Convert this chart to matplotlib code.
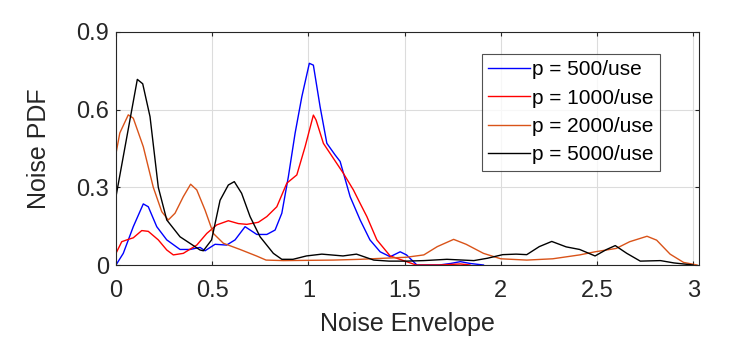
import matplotlib
matplotlib.use("Agg")
import matplotlib.pyplot as plt

plt.rcParams['font.family'] = ['Liberation Sans', 'DejaVu Sans']

# p = 500/use
x500 = [0.0, 0.038, 0.09, 0.142, 0.168, 0.212, 0.264, 0.333, 0.385, 0.437, 0.463, 0.515,
        0.575, 0.619, 0.671, 0.732, 0.784, 0.827, 0.862, 0.896, 0.931, 0.966, 1.005, 1.026,
        1.061, 1.096, 1.139, 1.165, 1.217, 1.269, 1.32, 1.373, 1.425, 1.477, 1.51, 1.564,
        1.68, 1.74, 1.79, 1.84, 1.91]
y500 = [0.0, 0.045, 0.148, 0.236, 0.225, 0.148, 0.097, 0.06, 0.06, 0.068, 0.055, 0.08,
        0.077, 0.097, 0.148, 0.118, 0.118, 0.135, 0.2, 0.341, 0.509, 0.65, 0.779, 0.772,
        0.611, 0.47, 0.425, 0.400, 0.264, 0.174, 0.097, 0.051, 0.032, 0.051, 0.039, 0.0,
        0.0, 0.006, 0.013, 0.006, 0.0]

# p = 1000/use
x1000 = [0.0, 0.03, 0.064, 0.09, 0.134, 0.168, 0.22, 0.264, 0.298, 0.35, 0.42, 0.472,
         0.524, 0.584, 0.636, 0.68, 0.74, 0.784, 0.836, 0.888, 0.94, 0.983, 1.026, 1.04,
         1.078, 1.13, 1.182, 1.234, 1.269, 1.304, 1.356, 1.425, 1.51, 1.56, 1.68, 1.79, 1.84]
y1000 = [0.045, 0.09, 0.099, 0.105, 0.133, 0.13, 0.097, 0.058, 0.039, 0.045, 0.077, 0.122,
         0.155, 0.171, 0.16, 0.157, 0.165, 0.187, 0.225, 0.316, 0.348, 0.457, 0.579, 0.56,
         0.47, 0.412, 0.354, 0.29, 0.238, 0.187, 0.097, 0.035, 0.013, 0.0, 0.0, 0.004, 0.0]

# p = 2000/use
x2000 = [0.0, 0.02, 0.064, 0.09, 0.142, 0.194, 0.238, 0.272, 0.307, 0.35, 0.388, 0.42,
         0.463, 0.506, 0.558, 0.645, 0.73, 0.78, 0.87, 1.13, 1.27, 1.51, 1.6, 1.67, 1.755,
         1.82, 1.91, 2.0, 2.135, 2.27, 2.41, 2.49, 2.6, 2.67, 2.76, 2.81, 2.88, 2.95, 3.02]
y2000 = [0.43, 0.51, 0.58, 0.567, 0.457, 0.30, 0.206, 0.174, 0.2, 0.264, 0.312, 0.29,
         0.212, 0.122, 0.084, 0.06, 0.035, 0.019, 0.017, 0.019, 0.022, 0.03, 0.039, 0.071, 0.099,
         0.08, 0.045, 0.024, 0.019, 0.024, 0.039, 0.051, 0.064, 0.09, 0.111, 0.096, 0.042, 0.01, 0.0]

# p = 5000/use
x5000 = [0.0, 0.111, 0.139, 0.177, 0.22, 0.264, 0.333, 0.437, 0.454, 0.497, 0.541, 0.584,
         0.615, 0.653, 0.697, 0.749, 0.818, 0.862, 0.92, 0.99, 1.07, 1.18, 1.25, 1.34, 1.42,
         1.51, 1.6, 1.72, 1.86, 1.93, 2.01, 2.08, 2.135, 2.2, 2.265, 2.34, 2.41, 2.49, 2.55,
         2.595, 2.655, 2.725, 2.83, 2.9, 3.0]
y5000 = [0.264, 0.717, 0.70, 0.573, 0.30, 0.174, 0.109, 0.058, 0.055, 0.097, 0.25, 0.309,
         0.322, 0.277, 0.187, 0.109, 0.045, 0.022, 0.022, 0.035, 0.042, 0.035, 0.042, 0.019, 0.015,
         0.015, 0.017, 0.022, 0.017, 0.026, 0.04, 0.042, 0.04, 0.071, 0.091, 0.07, 0.06, 0.035, 0.06,
         0.075, 0.045, 0.015, 0.017, 0.008, 0.0]

labels = ['p = 500/use', 'p = 1000/use', 'p = 2000/use', 'p = 5000/use']
colors = ['#0000ff', '#ff0000', '#d95319', '#000000']

fig = plt.figure(figsize=(7.54, 3.47), dpi=100)
ax = fig.add_axes([0.1538, 0.2363, 0.927 - 0.1538, 0.9078 - 0.2363])

for xs, ys, lab, c in zip([x500, x1000, x2000, x5000], [y500, y1000, y2000, y5000], labels, colors):
    ax.plot(xs, ys, color=c, lw=1.0, label=lab)

ax.set_xlim(0, 3.03)
ax.set_ylim(0, 0.9)
ax.set_xticks([0, 0.5, 1, 1.5, 2, 2.5, 3])
ax.set_xticklabels(['0', '0.5', '1', '1.5', '2', '2.5', '3'])
ax.set_yticks([0, 0.3, 0.6, 0.9])
ax.set_yticklabels(['0', '0.3', '0.6', '0.9'])
ax.grid(True, color='#dcdcdc', lw=0.8)
ax.set_axisbelow(True)
ax.tick_params(direction='in', length=3, width=0.8, top=True, right=True,
               labelsize=17, colors='#262626', labelcolor='#262626')
ax.tick_params(axis='x', pad=11)
ax.tick_params(axis='y', pad=5)
for s in ax.spines.values():
    s.set_color('#262626')
    s.set_linewidth(0.8)

ax.set_xlabel('Noise Envelope', fontsize=18, color='#262626', labelpad=7)
ax.set_ylabel('Noise PDF', fontsize=18, color='#262626', labelpad=18)

leg = ax.legend(loc='upper right', bbox_to_anchor=(0.933, 0.906), fontsize=15,
                frameon=True, fancybox=False, edgecolor='#262626', handlelength=2.0,
                handletextpad=0.1, borderpad=0.3, labelspacing=0.45, borderaxespad=0)
leg.get_frame().set_linewidth(0.8)

fig.savefig('out.png', dpi=100)
